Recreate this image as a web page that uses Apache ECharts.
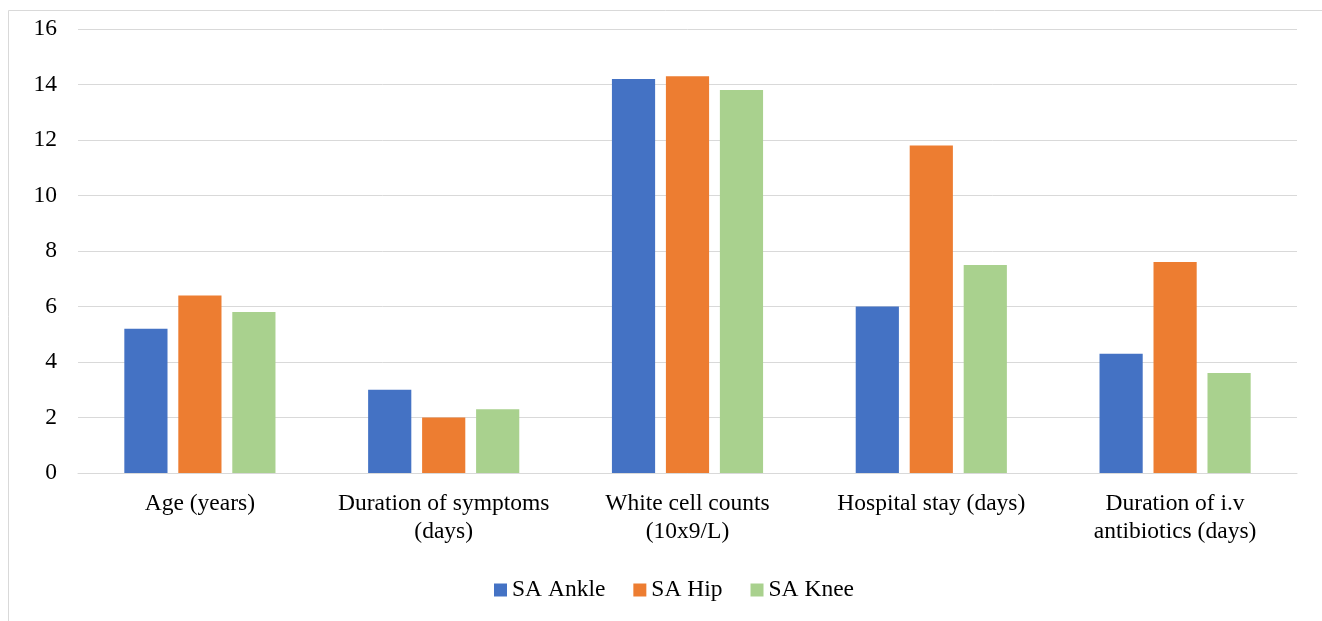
<!DOCTYPE html>
<html><head><meta charset="utf-8">
<script src="https://cdn.jsdelivr.net/npm/echarts@6/dist/echarts.min.js"></script>
<style>html,body{margin:0;padding:0;background:#fff}#c{width:1322px;height:621px}</style>
</head><body><div id="c"></div>
<script>
var categories = ['Age (years)', 'Duration of symptoms\n(days)', 'White cell counts\n(10x9/L)', 'Hospital stay (days)', 'Duration of i.v\nantibiotics (days)'];
var seriesNames = ['SA Ankle', 'SA Hip', 'SA Knee'];
var ankle = [5.2, 3.0, 14.2, 6.0, 4.3];
var hip = [6.4, 2.0, 14.3, 11.8, 7.6];
var knee = [5.8, 2.3, 13.8, 7.5, 3.6];
var colors = ['#4472C4', '#ED7D31', '#A9D18E'];

var font = 'Liberation Serif, Times New Roman, serif';
var chart = echarts.init(document.getElementById('c'));
var data = [ankle, hip, knee];
chart.setOption({
  animation: false,
  color: colors,
  graphic: [{type: 'rect', shape: {x: 8.5, y: 10.5, width: 1400, height: 700}, style: {fill: 'none', stroke: '#d9d9d9', lineWidth: 1}, silent: true}],
  grid: {left: 78, right: 25, top: 29, bottom: 148},
  legend: {
    top: 573, left: 489, itemWidth: 13, itemHeight: 13, itemGap: 28,
    icon: 'rect',
    textStyle: {fontFamily: font, fontSize: 23.5, color: '#000'},
    data: seriesNames
  },
  xAxis: {
    type: 'category', data: categories,
    axisLine: {lineStyle: {color: '#d9d9d9', width: 1}},
    axisTick: {show: false},
    axisLabel: {fontFamily: font, fontSize: 23.5, color: '#000', margin: 17, lineHeight: 28, interval: 0}
  },
  yAxis: {
    type: 'value', min: 0, max: 16, interval: 2,
    axisLine: {show: false}, axisTick: {show: false},
    splitLine: {lineStyle: {color: '#d9d9d9', width: 1}},
    axisLabel: {fontFamily: font, fontSize: 23.5, color: '#000', margin: 21, padding: [4, 0, 0, 0]}
  },
  series: seriesNames.map(function (n, i) {
    return {name: n, type: 'bar', data: data[i], barGap: '25%', barCategoryGap: '38%'};
  })
});
</script></body></html>
